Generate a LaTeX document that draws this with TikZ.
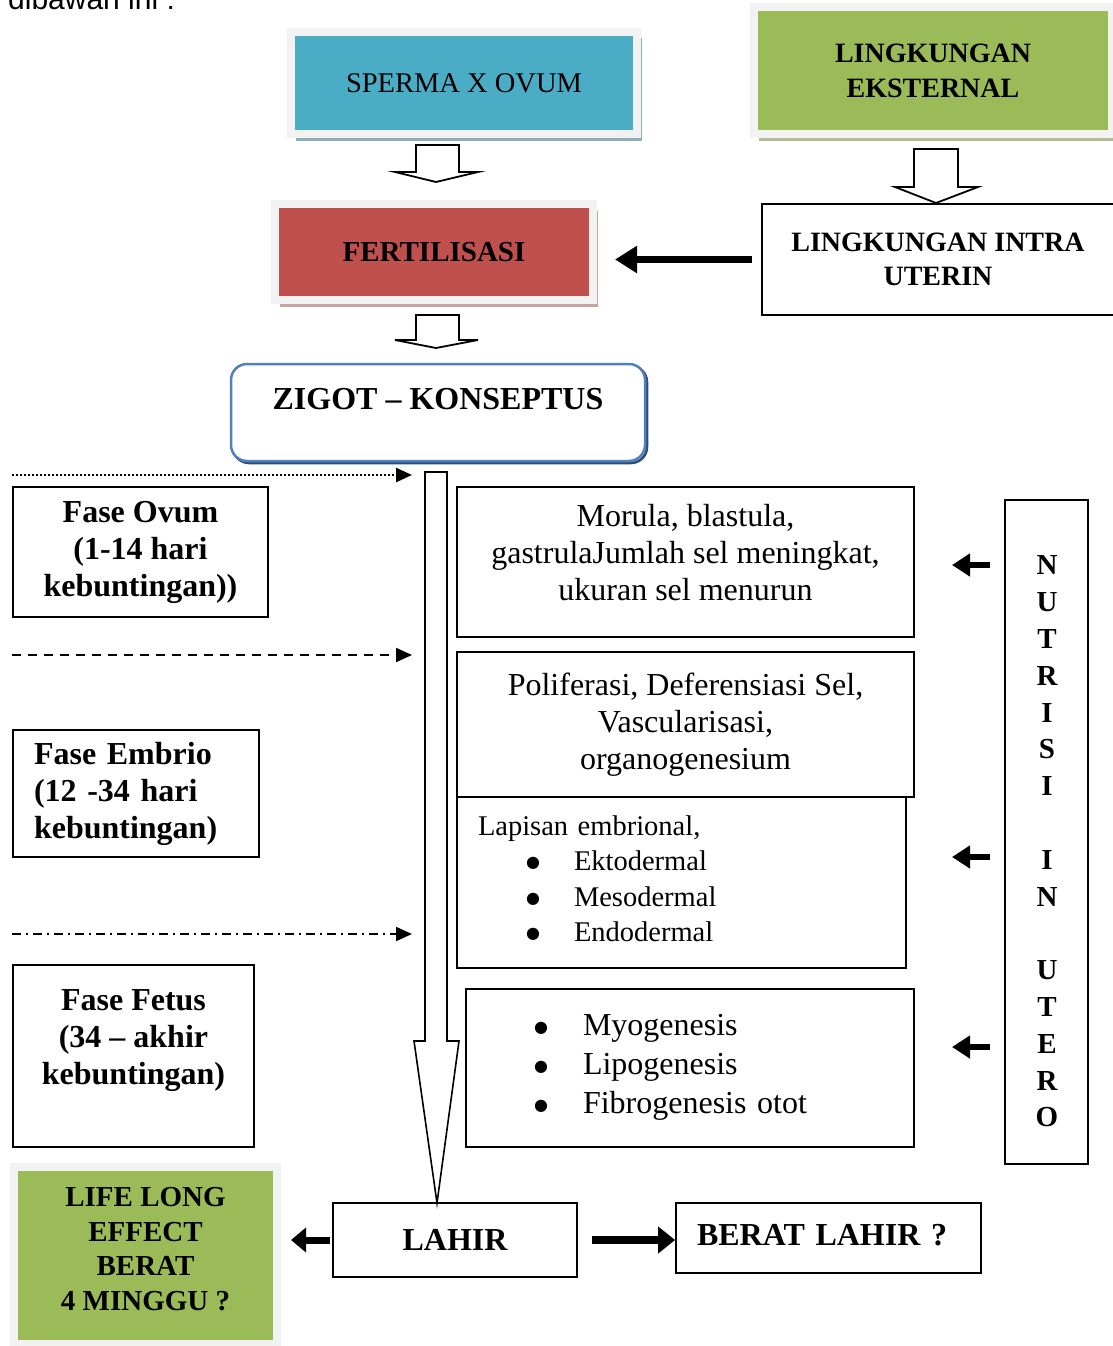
\documentclass[tikz,border=0pt]{standalone}
\usepackage{fontspec}
\setmainfont{Liberation Serif}
\newfontfamily\introfont{Liberation Sans}
\newfontfamily\dotfont{DejaVu Sans}
\usepackage{xcolor}
\usepackage{tikz}
\usetikzlibrary{arrows.meta,positioning,shadows}
\definecolor{SpermTeal}{HTML}{4BACC6}
\definecolor{FertRed}{HTML}{C0504D}
\definecolor{EnvGreen}{HTML}{9BBB59}
\definecolor{FrameGray}{HTML}{F2F2F2}
\definecolor{TealShade}{HTML}{8FAEBC}
\definecolor{GreenShade}{HTML}{AFBD97}
\definecolor{RedShade}{HTML}{C9A2A2}
\definecolor{ZigotBlue}{HTML}{4F81BD}
\definecolor{ZigotDark}{HTML}{2C4D75}
\newcommand{\fsBig}{\fontsize{32}{37}\selectfont}
\newcommand{\fsHead}{\fontsize{28.5}{35.5}\selectfont}
\newcommand{\blt}{\makebox[12pt]{\raisebox{3pt}{\dotfont\fontsize{16}{20}\selectfont ●}}}

\begin{document}
\begin{tikzpicture}[x=1pt, y=-1pt, box/.style={draw,line width=1.8,align=center,fill=white,inner sep=3pt}, panel/.style={fill=#1,draw=FrameGray,line width=8,align=center,inner sep=3pt}, hollow/.style={draw,line width=1.8,fill=white,line join=miter}, fat/.style={line width=7,-{Triangle[length=22pt,width=26pt]}}, lead/.style={line width=2,-{Triangle[length=16pt,width=14pt]}}]
\useasboundingbox (0,0) rectangle (1112,1346);
\node[anchor=base west,inner sep=0,font=\introfont\fontsize{30}{34}\selectfont] (intro) at (8,10) {dibawah ini :};
% top row
\node[panel=SpermTeal,minimum width=346,minimum height=102,font=\fontsize{28.5}{34}\selectfont,drop shadow={shadow xshift=5pt,shadow yshift=-6.5pt,fill=TealShade,opacity=1}] (sperma) at (464,83) {SPERMA X OVUM};
\node[panel=EnvGreen,minimum width=358,minimum height=127,font=\fontsize{28}{35}\selectfont\bfseries,drop shadow={shadow xshift=5pt,shadow yshift=-6.5pt,fill=GreenShade,opacity=1}] (ekst) at (933,70.5) {LINGKUNGAN\\EKSTERNAL};
\node[box,minimum width=352,minimum height=111,font=\fontsize{28}{34}\selectfont\bfseries] (intra) at (938,259.5) {LINGKUNGAN INTRA\\UTERIN};
\node[panel=FertRed,minimum width=318,minimum height=96,font=\fontsize{29}{35}\selectfont\bfseries,drop shadow={shadow xshift=5pt,shadow yshift=-6.5pt,fill=RedShade,opacity=1}] (fert) at (434,252) {FERTILISASI};
\node[box,draw=ZigotBlue,line width=2.5,rounded corners=16,minimum width=414,minimum height=97,font=\fsBig\bfseries,drop shadow={shadow xshift=2pt,shadow yshift=-2pt,fill=none,draw=ZigotDark,line width=2.5,opacity=1}] (zigot) at (438,412.5) {ZIGOT – KONSEPTUS\\[-10pt]\mbox{}};
% fase (left column)
\node[box,minimum width=255,minimum height=130,font=\fsBig\bfseries] (ovum) at (140.5,552) {Fase Ovum\\(1-14 hari\\kebuntingan))};
\node[box,align=left,text width=204,inner xsep=21,minimum height=127,font=\fsBig\bfseries] (embrio) at (136,793.5) {Fase Embrio\\(12 -34 hari\\kebuntingan)};
\node[box,minimum width=241,minimum height=182,font=\fsBig\bfseries] (fetus) at (133.5,1056) {Fase Fetus\\(34 – akhir\\kebuntingan)\\\mbox{}};
% proses (middle column)
\node[box,minimum width=457,minimum height=150,font=\fsBig] (morula) at (685.5,562) {Morula, blastula,\\gastrulaJumlah sel meningkat,\\ukuran sel menurun\\[-18pt]\mbox{}};
\node[box,minimum width=457,minimum height=145,font=\fsBig] (prolif) at (685.5,724.5) {Poliferasi, Deferensiasi Sel,\\Vascularisasi,\\organogenesium\\[-31pt]\mbox{}};
\node[box,align=left,text width=407,inner xsep=21,minimum height=171,font=\fsHead] (lapis) at (681.5,882.5) {Lapisan embrional,\\\hspace*{49pt}\blt\hspace*{35pt}Ektodermal\\\hspace*{49pt}\blt\hspace*{35pt}Mesodermal\\\hspace*{49pt}\blt\hspace*{35pt}Endodermal\\[-28pt]\mbox{}};
\node[box,align=left,text width=310,inner xsep=69,minimum height=158,font=\fontsize{32}{39}\selectfont] (myo) at (690,1068) {\blt\hspace*{36pt}Myogenesis\\\blt\hspace*{36pt}Lipogenesis\\\blt\hspace*{36pt}Fibrogenesis otot\\[-31pt]\mbox{}};
% nutrisi (right column)
\node[box,minimum width=83,minimum height=664] (nutri) at (1046.5,832) {};
\node[align=center,inner sep=0,font=\fontsize{29}{36.8}\selectfont\bfseries] (nutritxt) at (1047,841.5) {N\\U\\T\\R\\I\\S\\I\\\mbox{}\\I\\N\\\mbox{}\\U\\T\\E\\R\\O};
% bottom row
\node[box,minimum width=244,minimum height=74,font=\fsBig\bfseries] (lahir) at (455,1240) {LAHIR};
\node[box,align=left,text width=263,inner xsep=21,minimum height=70,font=\fsBig\bfseries] (berat) at (828.5,1238) {BERAT LAHIR ?\\[-31pt]\mbox{}};
\node[panel=EnvGreen,minimum width=263,minimum height=177,font=\fontsize{29}{34.5}\selectfont\bfseries,drop shadow={shadow xshift=4pt,shadow yshift=-2pt,fill=GreenShade,opacity=1}] (life) at (145.5,1255.5) {LIFE LONG\\EFFECT\\BERAT\\4 MINGGU ?\\[-21pt]\mbox{}};
% block arrows
\draw[hollow] (416,145) -- (459,145) -- (459,172) -- (478,172) -- (436,182) -- (395,172) -- (416,172) -- cycle;
\draw[hollow] (914,149) -- (958,149) -- (958,187) -- (978,187) -- (936,203) -- (895,187) -- (914,187) -- cycle;
\draw[hollow] (416,315) -- (459,315) -- (459,340) -- (478,340) -- (436,348) -- (395,340) -- (416,340) -- cycle;
\draw[hollow,line width=1.6] (425,472) -- (447,472) -- (447,1041) -- (459,1041) -- (437,1203) -- (414,1041) -- (425,1041) -- cycle;
% arrows
\draw[fat,shorten <=9,shorten >=18] (intra.west) -- (fert.east |- intra.west);
\coordinate (nut1) at (952,565);
\coordinate (nut2) at (952,857);
\coordinate (nut3) at (952,1047);
\draw[fat,line width=6,-{Triangle[length=18pt,width=22pt]},shorten <=14] (nutri.west |- nut1) -- (nut1);
\draw[fat,line width=6,-{Triangle[length=18pt,width=22pt]},shorten <=14] (nutri.west |- nut2) -- (nut2);
\draw[fat,line width=6,-{Triangle[length=18pt,width=22pt]},shorten <=14] (nutri.west |- nut3) -- (nut3);
\draw[fat,line width=8,-{Triangle[length=17pt,width=26pt]},shorten <=14] (lahir.east) -- (berat.west |- lahir.east);
\draw[fat,-{Triangle[length=15pt,width=24pt]},shorten <=2,shorten >=10] (lahir.west) -- (life.east |- lahir.west);
% phase markers
\coordinate (dot0) at (12,475);
\coordinate (dot1) at (412,475);
\coordinate (dash0) at (12,655);
\coordinate (dash1) at (412,655);
\coordinate (dd0) at (12,934);
\coordinate (dd1) at (412,934);
\draw[lead,line width=2.5,dash pattern=on 2pt off 2pt] (dot0) -- (dot1);
\draw[lead,dash pattern=on 9pt off 7pt] (dash0) -- (dash1);
\draw[lead,dash pattern=on 9pt off 5pt on 2pt off 5pt] (dd0) -- (dd1);
\end{tikzpicture}
\end{document}
